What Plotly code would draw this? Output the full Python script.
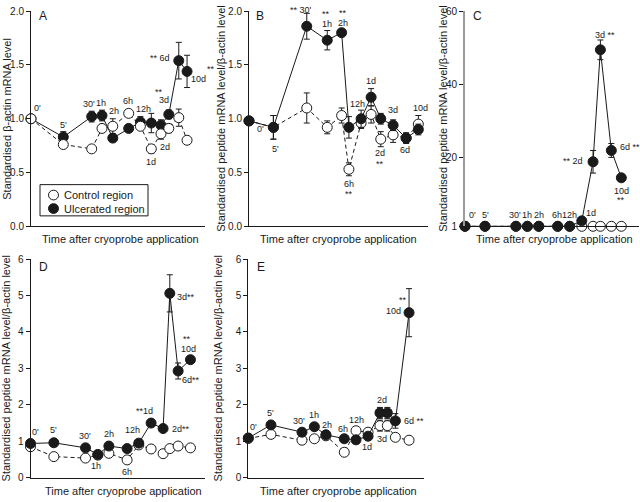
import plotly.graph_objects as go

# ---------------- data ----------------
time_labels = ["0'", "5'", "30'", "1h", "2h", "6h", "12h", "1d", "2d", "3d", "6d", "10d"]

# horizontal position of each sampling time on each panel's time axis (0 = 0', 100 = 10d)
x_A = [0, 20.7, 38.9, 45.5, 52.4, 62.6, 70.1, 77.1, 83.3, 88.3, 94.7, 100]
x_B = [0, 14.4, 34.1, 46.2, 54.7, 59.0, 66.2, 72.1, 77.8, 85.1, 92.8, 100]
x_C = [0, 12.8, 32.6, 39.9, 47.2, 59.3, 67.0, 74.7, 81.9, 86.6, 93.6, 100]
x_D = [0, 14.6, 34.4, 42.1, 49.0, 60.4, 67.7, 75.4, 82.9, 87.1, 92.3, 100]
x_E = [0, 14.1, 33.4, 41.1, 48.3, 59.7, 67.0, 74.5, 81.9, 86.5, 91.5, 100]

control_A = [1.00, 0.76, 0.72, 0.91, 0.93, 1.05, 0.93, 0.72, 0.86, 0.91, 1.01, 0.80]
control_A_err = [0, 0.02, 0.02, 0.03, 0.07, 0.03, 0.03, 0.04, 0.05, 0.04, 0.08, 0.03]
ulcer_A = [1.00, 0.83, 1.02, 1.03, 0.82, 0.91, 0.97, 0.96, 0.94, 1.04, 1.54, 1.44]
ulcer_A_err = [0, 0.05, 0.05, 0.05, 0.03, 0.03, 0.05, 0.09, 0.05, 0.04, 0.17, 0.15]

control_B = [0.98, 0.92, 1.10, 0.92, 1.03, 0.53, 0.96, 1.04, 0.81, 0.85, 0.82, 0.95]
control_B_err = [0, 0.11, 0.14, 0.06, 0.07, 0.06, 0.05, 0.08, 0.07, 0.07, 0.05, 0.08]
ulcer_B = [0.98, 0.92, 1.86, 1.73, 1.80, 0.92, 1.00, 1.20, 1.00, 0.94, 0.82, 0.90]
ulcer_B_err = [0, 0.11, 0.12, 0.09, 0.03, 0.10, 0.08, 0.08, 0.05, 0.05, 0.04, 0.05]

control_C = [1, 1, 1, 1, 1, 1, 1, 1, 1, 1, 1, 1]
control_C_err = [0, 0, 0, 0, 0, 0, 0, 0, 0, 0, 0, 0]
ulcer_C = [1, 1, 1, 1, 1, 1, 1, 2.5, 18.7, 49.4, 21.8, 14.3]
ulcer_C_err = [0, 0, 0, 0, 0, 0, 0, 0.3, 3.1, 2.7, 1.9, 0]

control_D = [0.85, 0.58, 0.54, 0.62, 0.67, 0.49, 0.90, 0.79, 0.66, 0.80, 0.87, 0.82]
control_D_err = [0.04, 0.05, 0.05, 0.05, 0.05, 0.05, 0.05, 0.05, 0.05, 0.05, 0.05, 0.05]
ulcer_D = [0.94, 0.96, 0.82, 0.64, 0.87, 0.80, 0.95, 1.50, 1.35, 5.06, 2.93, 3.24]
ulcer_D_err = [0, 0.10, 0.07, 0.05, 0.07, 0.06, 0.06, 0.08, 0.05, 0.51, 0.22, 0.05]

control_E = [1.08, 1.19, 1.03, 1.07, 1.15, 0.70, 1.29, 1.25, 1.43, 1.43, 1.11, 1.03]
control_E_err = [0, 0.05, 0.07, 0.05, 0.05, 0.06, 0.10, 0.08, 0.15, 0.15, 0.05, 0.04]
ulcer_E = [1.09, 1.45, 1.25, 1.40, 1.18, 1.07, 1.04, 1.14, 1.78, 1.78, 1.56, 4.53]
ulcer_E_err = [0, 0.06, 0.07, 0.05, 0.05, 0.06, 0.10, 0.10, 0.15, 0.15, 0.20, 0.66]

series_names = ["Control region", "Ulcerated region"]
y_title_A = "Standardised β-actin mRNA level"
y_title_other = "Standardised peptide mRNA level/β-actin level"
x_title = "Time after cryoprobe application"

# ---------------- layout / style ----------------
W, H = 640, 502
FONT = "Liberation Sans, Arial, Helvetica, sans-serif"
INK = "#1a1a1a"


def px(x):
    return x / W


def py(y):
    return 1 - y / H


top_dom = [py(225.7), py(5.3)]
bot_dom = [py(483.3), py(259.3)]

# label annotations: (series, index, text, dx px, dy px (down +), xanchor)
labels_A = [
    ("u", 0, "0'", 6, -11, "center"), ("u", 1, "5'", 0, -12, "center"),
    ("u", 2, "30'", -3, -13, "center"), ("u", 3, "1h", -1, -13, "center"),
    ("c", 4, "2h", 1, -15, "center"), ("c", 5, "6h", -1, -12, "center"),
    ("u", 6, "12h", 3, -13, "center"), ("c", 7, "1d", 0, 13, "center"),
    ("c", 8, "2d", 4, 13, "center"), ("u", 9, "3d", -5, -14, "center"),
    ("u", 9, "**", -10, -22, "center"), ("u", 10, "** 6d", -7, -3, "right"),
    ("u", 11, "10d", 11, 8, "center"), ("u", 11, "**", 24, -2, "center"),
]
labels_B = [
    ("u", 2, "** 30'", -6, -16, "center"),
    ("u", 3, "**", -1, -26, "center"), ("u", 3, "1h", 0, -16, "center"),
    ("u", 4, "**", 1, -20, "center"), ("u", 4, "2h", 1, -10, "center"),
    ("u", 0, "0'", 11, 8, "center"), ("u", 1, "5'", 2, 22, "center"),
    ("c", 5, "6h", 0, 15, "center"), ("c", 5, "**", 0, 25, "center"),
    ("u", 6, "12h", -4, -15, "center"), ("u", 7, "1d", 0, -16, "center"),
    ("u", 9, "3d", 0, -15, "center"),
    ("c", 8, "2d", -1, 14, "center"), ("c", 8, "**", -1, 25, "center"),
    ("u", 10, "6d", -1, 12, "center"), ("u", 11, "10d", 2, -21, "center"),
]
labels_C = [
    ("u", 0, "0'", 7, -11, "center"), ("u", 1, "5'", 0, -11, "center"),
    ("u", 2, "30'", -1, -11, "center"), ("u", 3, "1h", 0, -11, "center"),
    ("u", 4, "2h", 0, -11, "center"), ("u", 5, "6h", -1, -11, "center"),
    ("u", 6, "12h", 0, -11, "center"), ("u", 7, "1d", 9, -8, "center"),
    ("u", 8, "** 2d", -8, -1, "right"), ("u", 9, "3d **", 5, -15, "center"),
    ("u", 10, "6d **", 7, -3, "left"), ("u", 11, "10d", 0, 13, "center"),
    ("u", 11, "**", 0, 22, "center"),
]
labels_D = [
    ("u", 0, "0'", 5, -11, "center"), ("u", 1, "5'", 0, -13, "center"),
    ("u", 2, "30'", -1, -12, "center"), ("u", 3, "1h", -2, 12, "center"),
    ("u", 4, "2h", 0, -12, "center"), ("c", 5, "6h", 0, 12, "center"),
    ("u", 6, "12h", -6, -13, "center"), ("u", 7, "**1d", -7, -12, "center"),
    ("u", 8, "2d**", 7, 0, "left"), ("u", 9, "3d**", 5, 4, "left"),
    ("u", 11, "10d", -2, -11, "center"), ("u", 11, "**", -3, -21, "center"),
    ("u", 10, "6d**", 2, 9, "left"),
]
labels_E = [
    ("u", 0, "0'", 5, -11, "center"), ("u", 1, "5'", 0, -12, "center"),
    ("u", 2, "30'", -3, -11, "center"), ("u", 3, "1h", 0, -12, "center"),
    ("u", 4, "2h", 1, -10, "center"), ("u", 5, "6h", -1, -10, "center"),
    ("u", 6, "12h", 0, -20, "center"), ("u", 7, "1d", -1, 11, "center"),
    ("u", 8, "2d", 2, -13, "center"), ("c", 9, "3d", -5, 13, "center"),
    ("u", 10, "6d **", 7, 0, "left"), ("u", 11, "10d", -6, -2, "right"),
    ("u", 11, "**", -6, -13, "center"),
]

panels = [
    dict(letter="A", x=x_A, c=control_A, ce=control_A_err, u=ulcer_A, ue=ulcer_A_err,
         xdom=(31, 205), xr=111.5, ydom=top_dom, yr=[0, 2], tv=[0, 0.5, 1, 1.5, 2],
         tf=".1f", ytitle=y_title_A, ytx=7, xtx=120, xty=239, letter_xy=(43, 10),
         labels=labels_A, ctrl_on_top=True, axcol=INK, axw=1),
    dict(letter="B", x=x_B, c=control_B, ce=control_B_err, u=ulcer_B, ue=ulcer_B_err,
         xdom=(249, 428), xr=105.7, ydom=top_dom, yr=[0, 2], tv=[0, 0.5, 1, 1.5, 2],
         tf=".1f", ytitle=y_title_other, ytx=221, xtx=338, xty=239, letter_xy=(260, 10),
         labels=labels_B, ctrl_on_top=False, axcol=INK, axw=1),
    dict(letter="C", x=x_C, c=control_C, ce=control_C_err, u=ulcer_C, ue=ulcer_C_err,
         xdom=(465, 639), xr=111.3, ydom=top_dom, yr=[1, 60], tv=[1, 20, 40, 60],
         tf="d", ytitle=y_title_other, ytx=443, xtx=554, xty=239, letter_xy=(477, 10),
         labels=labels_C, ctrl_on_top=False, axcol="#9a9a9a", axw=2),
    dict(letter="D", x=x_D, c=control_D, ce=control_D_err, u=ulcer_D, ue=ulcer_D_err,
         xdom=(30.5, 205), xr=109.1, ydom=bot_dom, yr=[0, 6], tv=[0, 1, 2, 3, 4, 5, 6],
         tf="d", ytitle=y_title_other, ytx=6, xtx=123, xty=497, letter_xy=(43, 267),
         labels=labels_D, ctrl_on_top=False, axcol=INK, axw=1),
    dict(letter="E", x=x_E, c=control_E, ce=control_E_err, u=ulcer_E, ue=ulcer_E_err,
         xdom=(248.3, 424), xr=109.3, ydom=bot_dom, yr=[0, 6], tv=[0, 1, 2, 3, 4, 5, 6],
         tf="d", ytitle=y_title_other, ytx=218, xtx=338, xty=497, letter_xy=(261, 267),
         labels=labels_E, ctrl_on_top=False, axcol=INK, axw=1),
]

fig = go.Figure()
annotations = []
shapes = []
layout_axes = {}

for i, p in enumerate(panels, start=1):
    sx = "" if i == 1 else str(i)
    xa, ya = "x" + sx, "y" + sx

    ctrl = go.Scatter(
        x=p["x"], y=p["c"], mode="lines+markers", xaxis=xa, yaxis=ya, name=series_names[0],
        line=dict(color=INK, width=1, dash="4px,3px"),
        marker=dict(symbol="circle", size=10, color="white", line=dict(color=INK, width=1)),
        error_y=dict(type="data", array=p["ce"], visible=True, color=INK, thickness=1, width=3),
        cliponaxis=False, showlegend=False, hoverinfo="skip",
    )
    ulc = go.Scatter(
        x=p["x"], y=p["u"], mode="lines+markers", xaxis=xa, yaxis=ya, name=series_names[1],
        line=dict(color=INK, width=1),
        marker=dict(symbol="circle", size=10, color=INK, line=dict(color=INK, width=1)),
        error_y=dict(type="data", array=p["ue"], visible=True, color=INK, thickness=1, width=3),
        cliponaxis=False, showlegend=False, hoverinfo="skip",
    )
    if p["ctrl_on_top"]:
        fig.add_trace(ulc)
        fig.add_trace(ctrl)
    else:
        fig.add_trace(ctrl)
        fig.add_trace(ulc)

    layout_axes["xaxis" + sx] = dict(
        domain=[px(p["xdom"][0]), px(p["xdom"][1])], range=[0, p["xr"]],
        anchor=ya, showticklabels=False, ticks="", showgrid=False, zeroline=False,
        showline=True, linecolor=INK, linewidth=1, fixedrange=True,
    )
    layout_axes["yaxis" + sx] = dict(
        domain=p["ydom"], range=p["yr"], anchor=xa, tickvals=p["tv"], tickformat=p["tf"],
        ticks="outside", ticklen=4, tickwidth=1, tickcolor=INK,
        tickfont=dict(size=10, color=INK, family=FONT),
        showgrid=False, zeroline=False, showline=True, linecolor=p["axcol"],
        linewidth=p["axw"], fixedrange=True,
    )

    annotations.append(dict(
        text=p["ytitle"], xref="paper", yref="paper", x=px(p["ytx"]),
        y=(p["ydom"][0] + p["ydom"][1]) / 2, textangle=-90, showarrow=False,
        xanchor="center", yanchor="middle", font=dict(size=11, color=INK, family=FONT)))
    annotations.append(dict(
        text=x_title, xref="paper", yref="paper", x=px(p["xtx"]), y=py(p["xty"]),
        showarrow=False, xanchor="center", yanchor="middle",
        font=dict(size=11, color=INK, family=FONT)))
    annotations.append(dict(
        text=p["letter"], xref="paper", yref="paper", x=px(p["letter_xy"][0]),
        y=py(p["letter_xy"][1]), showarrow=False, xanchor="center", yanchor="middle",
        font=dict(size=12, color=INK, family=FONT)))

    for series, idx, txt, dx, dy, anc in p["labels"]:
        yv = p["u"][idx] if series == "u" else p["c"][idx]
        annotations.append(dict(
            text=txt, xref=xa, yref=ya, x=p["x"][idx], y=yv, xshift=dx, yshift=-dy,
            showarrow=False, xanchor=anc, yanchor="middle",
            font=dict(size=9, color=INK, family=FONT)))

# ---- legend box drawn inside panel A (compact, marker-only, as in the reference) ----
shapes.append(dict(type="rect", xref="paper", yref="paper",
                   x0=px(40), x1=px(148), y0=py(215), y1=py(183),
                   line=dict(color=INK, width=1), fillcolor="white", layer="above"))
for k, (fill, cy) in enumerate([("white", 193.7), (INK, 207.5)]):
    shapes.append(dict(type="circle", xref="paper", yref="paper",
                       x0=px(48.5), x1=px(58.5), y0=py(cy + 5), y1=py(cy - 5),
                       line=dict(color=INK, width=1), fillcolor=fill, layer="above"))
    annotations.append(dict(text=series_names[k], xref="paper", yref="paper",
                            x=px(62), y=py(cy), xanchor="left", yanchor="middle",
                            showarrow=False, font=dict(size=11, color=INK, family=FONT)))

fig.update_layout(
    width=W, height=H, autosize=False,
    margin=dict(l=0, r=0, t=0, b=0),
    paper_bgcolor="white", plot_bgcolor="white",
    font=dict(family=FONT, color=INK, size=11),
    showlegend=False,
    annotations=annotations,
    shapes=shapes,
    **layout_axes,
)

fig.write_html("out.html",
               config={"displayModeBar": False, "staticPlot": True},
               post_script="document.body.style.margin='0';document.body.style.padding='0';")
